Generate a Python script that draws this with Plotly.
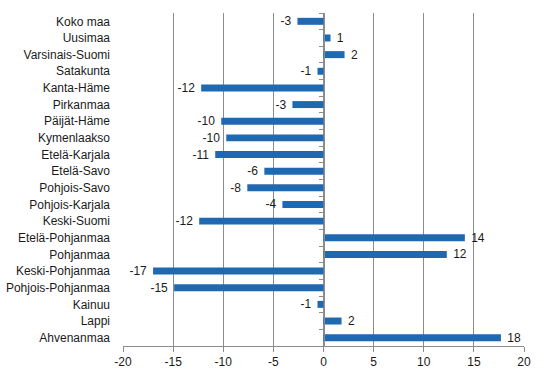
import plotly.graph_objects as go

regions = ["Koko maa", "Uusimaa", "Varsinais-Suomi", "Satakunta", "Kanta-Häme",
           "Pirkanmaa", "Päijät-Häme", "Kymenlaakso", "Etelä-Karjala", "Etelä-Savo",
           "Pohjois-Savo", "Pohjois-Karjala", "Keski-Suomi", "Etelä-Pohjanmaa",
           "Pohjanmaa", "Keski-Pohjanmaa", "Pohjois-Pohjanmaa", "Kainuu", "Lappi",
           "Ahvenanmaa"]
values = [-2.6, 0.7, 2.1, -0.6, -12.2, -3.1, -10.2, -9.7, -10.8, -5.9,
          -7.6, -4.1, -12.4, 14.1, 12.3, -17.0, -14.9, -0.6, 1.8, 17.7]
x_ticks = [-20, -15, -10, -5, 0, 5, 10, 15, 20]
x_ticktext = [str(t) for t in x_ticks]

font = "Liberation Sans, Arial, sans-serif"
pad = "\u00a0"
labels = [(pad + str(int(round(v)))) if v >= 0 else (str(int(round(v))) + pad)
          for v in values]

fig = go.Figure()
fig.add_trace(go.Bar(
    x=values, y=regions, orientation="h",
    marker=dict(color="#1F69B3", line=dict(width=0)),
    text=labels,
    textposition="outside", cliponaxis=False, constraintext="none",
    textfont=dict(family=font, size=12, color="#1a1a1a"),
    width=0.42,
))
fig.add_trace(go.Scatter(x=[0, 0], y=[-0.5, len(regions) - 0.5], yaxis="y2",
                         mode="lines", line=dict(width=0), hoverinfo="skip",
                         showlegend=False))

fig.update_layout(
    width=544, height=374,
    margin=dict(l=123, r=20, t=13, b=28, autoexpand=False),
    paper_bgcolor="white", plot_bgcolor="white",
    showlegend=False,
    font=dict(family=font, size=12, color="#1a1a1a"),
    xaxis=dict(range=[-20, 20], tickvals=x_ticks, ticktext=x_ticktext,
               showgrid=True, gridcolor="#8c8c8c", gridwidth=1, zeroline=False,
               showline=True, linecolor="#8c8c8c", linewidth=1,
               ticks="outside", ticklen=5, tickcolor="#8c8c8c",
               tickfont=dict(size=12, family=font, color="#1a1a1a")),
    yaxis=dict(categoryorder="array", categoryarray=regions,
               autorange="reversed", showgrid=False, showline=False,
               ticks="", ticklabelstandoff=12,
               tickfont=dict(size=12, family=font, color="#1a1a1a")),
    yaxis2=dict(overlaying="y", anchor="free", position=0.5,
                range=[len(regions) - 0.5, -0.5], tick0=-0.5, dtick=1,
                showticklabels=False, showgrid=False, zeroline=False,
                showline=True, linecolor="#8c8c8c", linewidth=1,
                ticks="outside", ticklen=5, tickcolor="#8c8c8c", side="left"),
)

fig.write_html("out.html",
               config={"displayModeBar": False},
               post_script="document.body.style.margin='0px';"
                           "document.body.style.overflow='hidden';")
